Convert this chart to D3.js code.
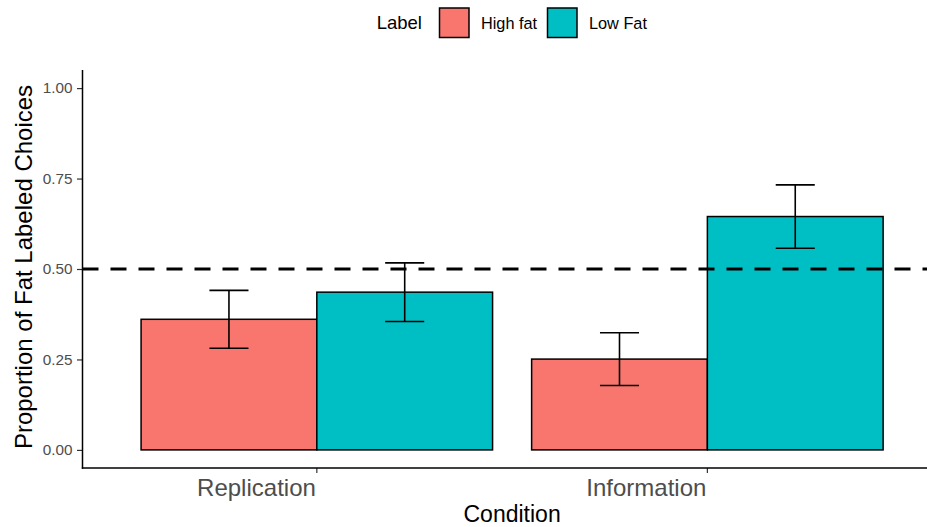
<!DOCTYPE html>
<html>
<head>
<meta charset="utf-8">
<script src="https://cdn.jsdelivr.net/npm/d3@7"></script>
<style>
  body { margin: 0; background: #fff; }
  svg { display: block; font-family: "Liberation Sans", Arial, sans-serif; }
</style>
</head>
<body>
<svg id="chart" width="927" height="527"></svg>
<script>
// Proportion of fat-labeled choices by condition and label
const conditions = ["Replication", "Information"];
const labels = ["High fat", "Low Fat"];
const highFatMean = [0.361, 0.251];
const lowFatMean = [0.436, 0.645];
const highFatErr = [0.080, 0.073];
const lowFatErr = [0.081, 0.0875];
const yTicks = [0, 0.25, 0.5, 0.75, 1];
const referenceLine = 0.5;
const colors = ["#F8766D", "#00BFC4"];

const rows = [];
conditions.forEach((c, i) => {
  rows.push({ condition: c, label: labels[0], mean: highFatMean[i], err: highFatErr[i] });
  rows.push({ condition: c, label: labels[1], mean: lowFatMean[i], err: lowFatErr[i] });
});

const svg = d3.select("#chart");
const panel = { left: 82.5, right: 941.7, top: 70, bottom: 468 };

const x0 = d3.scaleBand()
  .domain(conditions)
  .range([panel.left, panel.right])
  .paddingInner(0.1)
  .paddingOuter(0.15);
const x1 = d3.scaleBand()
  .domain(labels)
  .range([0, x0.bandwidth()]);
const y = d3.scaleLinear()
  .domain([-0.05, 1.05])
  .range([panel.bottom, panel.top]);
const color = d3.scaleOrdinal().domain(labels).range(colors);
const step = x0.step();

// Bars
svg.append("g").selectAll("rect")
  .data(rows)
  .join("rect")
  .attr("x", d => x0(d.condition) + x1(d.label))
  .attr("y", d => y(d.mean))
  .attr("width", x1.bandwidth())
  .attr("height", d => y(0) - y(d.mean))
  .attr("fill", d => color(d.label))
  .attr("stroke", "#000")
  .attr("stroke-width", 1.5);

// Error bars
const capHalf = step * 0.05;
const eb = svg.append("g").attr("stroke", "#000").attr("stroke-width", 1.6).attr("fill", "none");
rows.forEach(d => {
  const cx = x0(d.condition) + x1(d.label) + x1.bandwidth() / 2;
  const y1 = y(d.mean + d.err), y2 = y(d.mean - d.err);
  eb.append("line").attr("x1", cx).attr("x2", cx).attr("y1", y1).attr("y2", y2);
  eb.append("line").attr("x1", cx - capHalf).attr("x2", cx + capHalf).attr("y1", y1).attr("y2", y1);
  eb.append("line").attr("x1", cx - capHalf).attr("x2", cx + capHalf).attr("y1", y2).attr("y2", y2);
});

// Dashed reference line at 0.5
svg.append("line")
  .attr("x1", panel.left).attr("x2", panel.right)
  .attr("y1", y(referenceLine)).attr("y2", y(referenceLine))
  .attr("stroke", "#000")
  .attr("stroke-width", 3.2)
  .attr("stroke-dasharray", "16 12");

// Y axis
const yAxis = svg.append("g")
  .attr("transform", `translate(${panel.left},0)`)
  .call(d3.axisLeft(y).tickValues(yTicks).tickFormat(d3.format(".2f")).tickSize(5.5).tickPadding(4.5));
yAxis.select(".domain").remove();
yAxis.selectAll(".tick line").attr("stroke", "#333").attr("stroke-width", 1.2);
yAxis.selectAll(".tick text")
  .attr("fill", "#4D4D4D")
  .style("font-size", "15.3px")
  .style("font-family", "Liberation Sans, Arial, sans-serif");
svg.append("line")
  .attr("x1", panel.left).attr("x2", panel.left)
  .attr("y1", panel.top).attr("y2", panel.bottom + 0.7)
  .attr("stroke", "#000").attr("stroke-width", 1.5);

// X axis
const xAxis = svg.append("g")
  .attr("transform", `translate(0,${panel.bottom})`)
  .call(d3.axisBottom(x0).tickSize(5).tickPadding(0));
xAxis.select(".domain").remove();
xAxis.selectAll(".tick line").attr("stroke", "#333").attr("stroke-width", 1.2);
xAxis.selectAll(".tick text")
  .attr("fill", "#4D4D4D")
  .attr("text-anchor", "end")
  .attr("x", -1)
  .attr("y", 27.5)
  .attr("dy", 0)
  .style("font-size", "24px")
  .style("font-family", "Liberation Sans, Arial, sans-serif");
svg.append("line")
  .attr("x1", panel.left - 0.7).attr("x2", panel.right)
  .attr("y1", panel.bottom).attr("y2", panel.bottom)
  .attr("stroke", "#000").attr("stroke-width", 1.5);

// Axis titles
svg.append("text")
  .attr("x", (panel.left + panel.right) / 2)
  .attr("y", 522)
  .attr("text-anchor", "middle")
  .style("font-size", "23px")
  .text("Condition");
svg.append("text")
  .attr("transform", `translate(32,${(panel.top + panel.bottom) / 2 - 2}) rotate(-90)`)
  .attr("text-anchor", "middle")
  .style("font-size", "24px")
  .text("Proportion of Fat Labeled Choices");

// Legend
const legend = svg.append("g");
legend.append("text")
  .attr("x", 376.7).attr("y", 29)
  .style("font-size", "18.5px")
  .text("Label");
const keyX = [439.5, 547.5];
labels.forEach((l, i) => {
  legend.append("rect")
    .attr("x", keyX[i]).attr("y", 8)
    .attr("width", 29.5).attr("height", 29.5)
    .attr("fill", color(l))
    .attr("stroke", "#000").attr("stroke-width", 1.5);
  legend.append("text")
    .attr("x", keyX[i] + 41.5).attr("y", 28.5)
    .style("font-size", "16.3px")
    .text(l);
});
</script>
</body>
</html>
